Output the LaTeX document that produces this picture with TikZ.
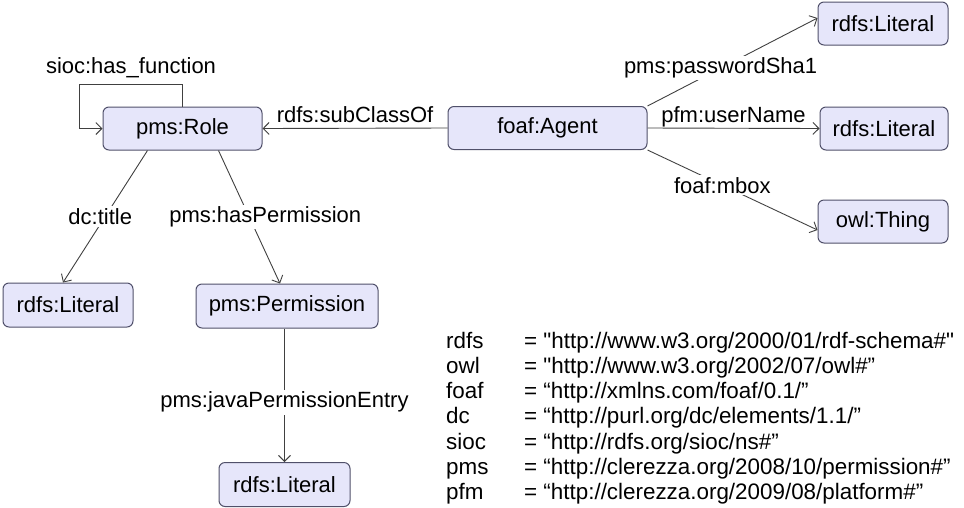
\documentclass[tikz,border=0pt]{standalone}
\usepackage{fontspec}
\setmainfont{Liberation Sans}[Ligatures=TeXOff]
\usetikzlibrary{arrows.meta,calc}
\definecolor{boxfill}{HTML}{E6E6FA}
\definecolor{boxdraw}{HTML}{50506A}
\definecolor{edgecol}{HTML}{404040}
\begin{document}
\begin{tikzpicture}[x=1pt,y=-1pt,
  cls/.style={draw=boxdraw, fill=boxfill, rounded corners=6pt, line width=1pt,
    minimum height=43pt, inner sep=0pt, font=\fontsize{22}{26}\selectfont},
  edge/.style={draw=edgecol, line width=0.9pt, -{Straight Barb[length=6pt,width=12pt]}},
  lbl/.style={font=\fontsize{22}{26}\selectfont, text=black, fill=white, inner sep=2pt},
  toplbl/.style={font=\fontsize{22}{26}\selectfont, text=black, inner sep=1pt},
  leg/.style={font=\fontsize{22.4}{26}\selectfont, text=black, inner sep=0pt, anchor=base west},
  ]
\useasboundingbox (0,0) rectangle (964,507);

% class nodes
\node[cls, minimum width=159pt] (role) at (182.5,128.5) {pms:Role};
\node[cls, minimum width=199pt] (agent) at (547.5,128) {foaf:Agent};
\node[cls, minimum width=130pt] (lit1) at (883,23.5) {rdfs:Literal};
\node[cls, minimum width=128pt] (lit2) at (884,128.5) {rdfs:Literal};
\node[cls, minimum width=130pt] (thing) at (883,221.5) {owl:Thing};
\node[cls, minimum width=130pt, minimum height=44pt] (lit3) at (68,305) {rdfs:Literal};
\node[cls, minimum width=182pt, minimum height=44pt] (perm) at (287,306) {pms:Permission};
\node[cls, minimum width=131pt, minimum height=44pt] (lit4) at (284.5,484.5) {rdfs:Literal};

% connectors
\draw[edge] (agent.west) -- node[toplbl, above=4pt]{rdfs:subClassOf} (role.east);
\draw[edge] (role.north) |- node[toplbl, above=5pt, pos=0.75]{sioc:has\_function}
  ($(role.west)+(-23,-44)$) |- (role.west);
\draw[edge] ($(role.south)+(-35,0)$) -- node[lbl, pos=0.5, xshift=-5pt]{dc:title} ($(lit3.north)+(-5,0)$);
\draw[edge] ($(role.south)+(36,0)$) -- node[lbl, pos=0.5, xshift=16pt]{pms:hasPermission} ($(perm.north)+(-7,0)$);
\draw[edge] ($(perm.south)+(-2.5,0)$) -- node[lbl, pos=0.5, yshift=-7pt]{pms:javaPermissionEntry} (lit4.north);
\draw[edge] (agent.north east) -- node[lbl, pos=0.43]{pms:passwordSha1} ($(lit1.west)+(0,-5.5)$);
\draw[edge] (agent.east) -- node[toplbl, above]{pfm:userName} (lit2.west);
\draw[edge] (agent.south east) -- node[lbl, pos=0.44]{foaf:mbox} ($(thing.west)+(0,8.5)$);

% namespace legend
\node[leg] (k1) at (446,348) {rdfs};
\node[leg] (v1) at (524,348) {= "http://www.w3.org/2000/01/rdf-schema\#"};
\node[leg] (k2) at (446,373.3) {owl};
\node[leg] (v2) at (524,373.3) {= "http://www.w3.org/2002/07/owl\#”};
\node[leg] (k3) at (446,398.6) {foaf};
\node[leg] (v3) at (524,398.6) {= “http://xmlns.com/foaf/0.1/”};
\node[leg] (k4) at (446,423.9) {dc};
\node[leg] (v4) at (524,423.9) {= “http://purl.org/dc/elements/1.1/”};
\node[leg] (k5) at (446,449.2) {sioc};
\node[leg] (v5) at (524,449.2) {= “http://rdfs.org/sioc/ns\#”};
\node[leg] (k6) at (446,474.5) {pms};
\node[leg] (v6) at (524,474.5) {= “http://clerezza.org/2008/10/permission\#”};
\node[leg] (k7) at (446,499.8) {pfm};
\node[leg] (v7) at (524,499.8) {= “http://clerezza.org/2009/08/platform\#”};
\end{tikzpicture}
\end{document}
